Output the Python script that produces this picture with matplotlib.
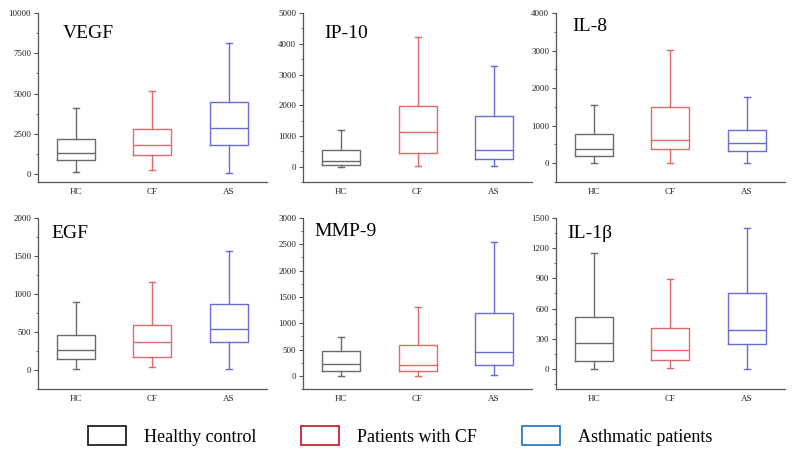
import matplotlib.pyplot as plt
from matplotlib.patches import Patch
from matplotlib.ticker import MultipleLocator

groups = ['HC', 'CF', 'AS']
colors = ['#6a6a6a', '#e06a6a', '#6a6ad8']

# per panel: [whisker low, Q1, median, Q3, whisker high] for HC, CF, AS
vegf = [[126, 861, 1323, 2164, 4100], [273, 1176, 1807, 2794, 5170], [63, 1786, 2857, 4475, 8110]]
ip10 = [[0, 54, 196, 554, 1196], [10, 446, 1130, 1989, 4217], [10, 239, 533, 1641, 3272]]
il8 = [[9, 199, 372, 779, 1541], [9, 381, 623, 1489, 3013], [9, 320, 537, 892, 1758]]
egf = [[13, 145, 268, 457, 897], [40, 167, 374, 589, 1160], [13, 369, 541, 866, 1565]]
mmp9 = [[0, 89, 230, 479, 740], [0, 89, 198, 587, 1315], [19, 198, 447, 1187, 2540]]
il1b = [[0, 77, 257, 518, 1153], [7, 90, 190, 408, 889], [0, 244, 391, 755, 1400]]

panels = [
    ('VEGF', vegf, (-500, 10000), 2500, 0.11, 0.88),
    ('IP-10', ip10, (-500, 5000), 1000, 0.09, 0.88),
    ('IL-8', il8, (-500, 4000), 1000, 0.07, 0.92),
    ('EGF', egf, (-250, 2000), 500, 0.06, 0.91),
    ('MMP-9', mmp9, (-250, 3000), 500, 0.05, 0.92),
    ('IL-1\u03b2', il1b, (-200, 1500), 300, 0.05, 0.91),
]

plt.rcParams['font.family'] = ['Liberation Serif', 'DejaVu Serif']

fig = plt.figure(figsize=(8, 4.59), dpi=100)
lefts = [0.0475, 0.379, 0.695]
bottoms = [0.6035, 0.1525]
heights = [0.368, 0.3725]

for i, (name, data, ylim, step, tx, ty) in enumerate(panels):
    r, c = divmod(i, 3)
    ax = fig.add_axes([lefts[c], bottoms[r], 0.286, heights[r]])
    stats = []
    for g, d in zip(groups, data):
        stats.append(dict(label=g, whislo=d[0], q1=d[1], med=d[2], q3=d[3], whishi=d[4], fliers=[]))
    bp = ax.bxp(stats, positions=[1, 2, 3], widths=0.5, showfliers=False, patch_artist=False)
    for j, col in enumerate(colors):
        bp['boxes'][j].set(color=col, linewidth=1)
        bp['medians'][j].set(color=col, linewidth=1)
        for k in (2 * j, 2 * j + 1):
            bp['whiskers'][k].set(color=col, linewidth=1)
            bp['caps'][k].set(color=col, linewidth=1, xdata=[j + 1 - 0.04, j + 1 + 0.04])
    ax.set_xlim(0.5, 3.5)
    ax.set_ylim(*ylim)
    ax.yaxis.set_major_locator(MultipleLocator(step))
    ax.yaxis.set_minor_locator(MultipleLocator(step / 2))
    ax.set_ylim(*ylim)
    for s in ('top', 'right'):
        ax.spines[s].set_visible(False)
    for s in ('left', 'bottom'):
        ax.spines[s].set_color('#555555')
        ax.spines[s].set_linewidth(0.9)
    ax.tick_params(axis='both', labelsize=6.5, colors='#555555', labelcolor='#222222',
                   length=3, width=0.8, pad=2)
    ax.tick_params(axis='y', which='minor', length=1.5, width=0.6, colors='#555555')
    ax.tick_params(axis='x', length=0, pad=4)
    ax.text(tx, ty, name, transform=ax.transAxes, fontsize=14, va='center', ha='left')

handles = [Patch(facecolor='white', edgecolor=col, linewidth=1.3)
           for col in ['#222222', '#d0202a', '#2b7bc8']]
fig.legend(handles, ['Healthy control', 'Patients with CF', 'Asthmatic patients'],
           loc='center', bbox_to_anchor=(0.5, 0.05), ncol=3, frameon=False,
           fontsize=13, handlelength=2.1, handleheight=1.2, handletextpad=1.0,
           columnspacing=2.5)

fig.savefig('out.png', dpi=100)
